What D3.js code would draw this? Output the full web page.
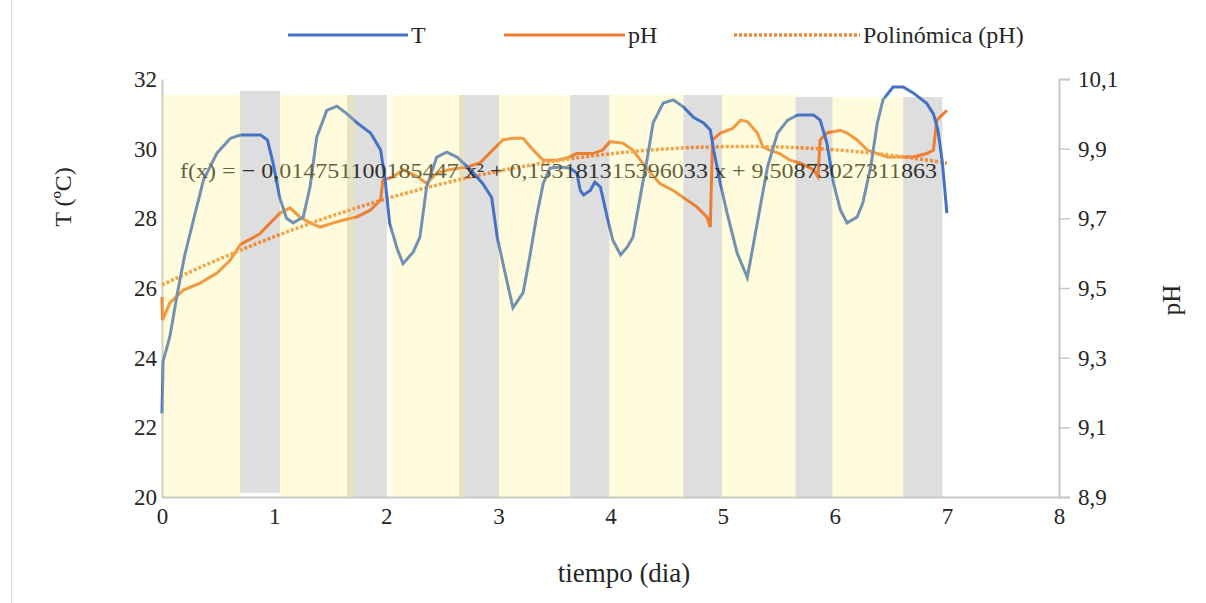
<!DOCTYPE html>
<html>
<head>
<meta charset="utf-8">
<script src="https://cdn.jsdelivr.net/npm/d3@7/dist/d3.min.js"></script>
<style>
  body { margin: 0; background: #fff; }
</style>
</head>
<body>
<svg width="1206" height="603"></svg>
<script>
// temperature series (day, °C)
const tDays = [0.00, 0.01, 0.07, 0.14, 0.20, 0.28, 0.37, 0.49, 0.61, 0.70, 0.88, 0.94, 0.99, 1.05, 1.11, 1.17, 1.26, 1.32, 1.38, 1.47, 1.56, 1.65, 1.74, 1.86, 1.95, 1.99, 2.03, 2.10, 2.15, 2.24, 2.30, 2.36, 2.45, 2.54, 2.63, 2.75, 2.86, 2.94, 2.99, 3.06, 3.13, 3.22, 3.28, 3.34, 3.40, 3.46, 3.55, 3.64, 3.70, 3.73, 3.76, 3.82, 3.86, 3.91, 3.97, 4.02, 4.09, 4.15, 4.20, 4.26, 4.33, 4.38, 4.47, 4.56, 4.65, 4.74, 4.83, 4.89, 4.92, 4.98, 5.04, 5.13, 5.22, 5.27, 5.33, 5.40, 5.49, 5.58, 5.67, 5.81, 5.87, 5.93, 5.99, 6.05, 6.11, 6.20, 6.25, 6.32, 6.38, 6.43, 6.52, 6.61, 6.70, 6.82, 6.88, 6.92, 6.96, 7.00];
const tValues = [22.4, 23.9, 24.6, 25.9, 26.9, 27.95, 29.1, 29.87, 30.3, 30.39, 30.39, 30.25, 29.6, 28.6, 28.0, 27.87, 28.04, 28.9, 30.33, 31.1, 31.22, 31.0, 30.74, 30.45, 29.96, 29.1, 27.87, 27.1, 26.7, 27.03, 27.46, 28.9, 29.76, 29.9, 29.76, 29.4, 29.0, 28.6, 27.46, 26.43, 25.43, 25.86, 26.9, 28.04, 29.0, 29.44, 29.47, 29.44, 29.3, 28.8, 28.67, 28.8, 29.04, 28.9, 28.04, 27.38, 26.95, 27.18, 27.46, 28.53, 29.76, 30.74, 31.31, 31.4, 31.2, 30.9, 30.74, 30.54, 29.96, 29.0, 28.15, 27.0, 26.3, 27.18, 28.24, 29.47, 30.45, 30.82, 30.97, 30.97, 30.82, 30.16, 29.0, 28.24, 27.87, 28.04, 28.44, 29.47, 30.74, 31.4, 31.77, 31.77, 31.6, 31.3, 31.0, 30.54, 29.6, 28.15];

// pH series (day, pH)
const phDays = [0.00, 0.005, 0.07, 0.19, 0.34, 0.49, 0.61, 0.70, 0.87, 1.05, 1.14, 1.23, 1.32, 1.41, 1.53, 1.62, 1.74, 1.86, 1.95, 1.97, 2.06, 2.15, 2.28, 2.36, 2.45, 2.57, 2.72, 2.84, 2.95, 3.04, 3.13, 3.22, 3.31, 3.40, 3.52, 3.61, 3.70, 3.84, 3.93, 3.996, 4.11, 4.20, 4.33, 4.44, 4.56, 4.68, 4.77, 4.86, 4.89, 4.91, 4.98, 5.09, 5.16, 5.22, 5.31, 5.36, 5.42, 5.51, 5.60, 5.69, 5.81, 5.85, 5.87, 5.93, 6.05, 6.11, 6.20, 6.29, 6.38, 6.47, 6.58, 6.70, 6.82, 6.88, 6.91, 7.00];
const phValues = [9.474, 9.408, 9.457, 9.494, 9.514, 9.543, 9.58, 9.625, 9.655, 9.715, 9.73, 9.704, 9.687, 9.675, 9.687, 9.695, 9.704, 9.724, 9.753, 9.81, 9.819, 9.84, 9.819, 9.8, 9.83, 9.84, 9.847, 9.86, 9.896, 9.925, 9.93, 9.93, 9.896, 9.867, 9.867, 9.873, 9.886, 9.886, 9.896, 9.92, 9.916, 9.896, 9.84, 9.8, 9.78, 9.753, 9.733, 9.704, 9.675, 9.925, 9.945, 9.958, 9.982, 9.978, 9.945, 9.905, 9.896, 9.886, 9.867, 9.859, 9.84, 9.82, 9.925, 9.945, 9.953, 9.945, 9.925, 9.896, 9.886, 9.876, 9.876, 9.876, 9.886, 9.896, 9.982, 10.01];

// polynomial trendline coefficients for pH (a x² + b x + c)
const trendCoef = [-0.014751100185447, 0.153181315396033, 9.50873027311863];
const trendLabel = "f(x) = \u2212 0,014751100185447 x\u00B2 + 0,153181315396033 x + 9,50873027311863";

// light (yellow) and dark (gray) periods, in days, top in °C
const lightStart = [0.00, 1.05, 2.04, 3.00, 3.99, 4.99, 5.98];
const lightEnd = [0.705, 1.72, 2.70, 3.64, 4.65, 5.65, 6.61];
const lightTop = [31.54, 31.54, 31.54, 31.54, 31.54, 31.54, 31.48];
const darkStart = [0.695, 1.65, 2.65, 3.64, 4.65, 5.65, 6.61];
const darkEnd = [1.053, 2.005, 3.005, 3.99, 4.995, 5.98, 6.96];
const darkTop = [31.66, 31.54, 31.54, 31.54, 31.54, 31.48, 31.48];
const darkBottom = [20.12, 20, 20, 20, 20, 20, 20];

const xTicks = [0, 1, 2, 3, 4, 5, 6, 7, 8];
const tTicks = [20, 22, 24, 26, 28, 30, 32];
const phTicks = [8.9, 9.1, 9.3, 9.5, 9.7, 9.9, 10.1];

const serif = "Liberation Serif";
const svg = d3.select("svg").attr("font-family", serif);
const plotLeft = 162, plotRight = 1059, plotTop = 79, plotBottom = 497;

const x = d3.scaleLinear().domain([0, 8]).range([plotLeft, plotRight]);
const yT = d3.scaleLinear().domain([20, 32]).range([plotBottom, plotTop]);
const yPH = d3.scaleLinear().domain([8.9, 10.1]).range([plotBottom, plotTop]);
const comma = d3.formatLocale({ decimal: ",", thousands: ".", grouping: [3], currency: ["", ""] }).format(".1f");

// outer frame edge
svg.append("line").attr("x1", 11.5).attr("x2", 11.5).attr("y1", 0).attr("y2", 603)
  .attr("stroke", "#d9d9d9");

// dark periods, behind the lines
darkStart.forEach((d, i) => {
  svg.append("rect")
    .attr("x", x(d)).attr("width", x(darkEnd[i]) - x(d))
    .attr("y", yT(darkTop[i])).attr("height", yT(darkBottom[i]) - yT(darkTop[i]))
    .attr("fill", "#dedede");
});

// axes
const axisColor = "#c8c8c8";
const gx = svg.append("g").attr("transform", `translate(0,${plotBottom})`)
  .call(d3.axisBottom(x).tickValues(xTicks).tickSize(0).tickPadding(11));
const gl = svg.append("g").attr("transform", `translate(${plotLeft},0)`)
  .call(d3.axisLeft(yT).tickValues(tTicks).tickSize(0).tickPadding(5));
const gr = svg.append("g").attr("transform", `translate(${plotRight},0)`)
  .call(d3.axisRight(yPH).tickValues(phTicks).tickFormat(comma).tickSize(11).tickPadding(8));
[gx, gl, gr].forEach(g => {
  g.attr("font-family", serif).attr("font-size", 23);
  g.select(".domain").attr("stroke", axisColor).attr("stroke-width", 2);
  g.selectAll(".tick line").attr("stroke", axisColor).attr("stroke-width", 1.5);
  g.selectAll("text").attr("fill", "#262626");
});

// series
const tLine = d3.line().x((d, i) => x(tDays[i])).y(d => yT(d));
const phLine = d3.line().x((d, i) => x(phDays[i])).y(d => yPH(d));

svg.append("path").datum(phValues).attr("d", phLine)
  .attr("fill", "none").attr("stroke", "#ED7D31").attr("stroke-width", 3);

const trend = phDays.map(d => trendCoef[0] * d * d + trendCoef[1] * d + trendCoef[2]);
svg.append("path").datum(trend).attr("d", phLine)
  .attr("fill", "none").attr("stroke", "#F08a3a").attr("stroke-width", 3.5)
  .attr("stroke-dasharray", "3,2");

svg.append("path").datum(tValues).attr("d", tLine)
  .attr("fill", "none").attr("stroke", "#4472C4").attr("stroke-width", 3);

// trendline equation
svg.append("text").attr("x", 180).attr("y", 178)
  .attr("font-size", 22).attr("textLength", 757).attr("lengthAdjust", "spacingAndGlyphs")
  .attr("fill", "#303030").text(trendLabel);

// light periods, translucent over everything
lightStart.forEach((d, i) => {
  svg.append("rect")
    .attr("x", x(d)).attr("width", x(lightEnd[i]) - x(d))
    .attr("y", yT(lightTop[i])).attr("height", yT(20) - yT(lightTop[i]))
    .attr("fill", "rgb(255,245,121)").attr("fill-opacity", 0.25);
});

// axis titles
svg.append("text").attr("transform", "translate(71,197) rotate(-90)")
  .attr("text-anchor", "middle").attr("font-size", 24).attr("fill", "#262626").text("T (ºC)");
svg.append("text").attr("transform", "translate(1180,300) rotate(-90)")
  .attr("text-anchor", "middle").attr("font-size", 25).attr("fill", "#262626").text("pH");
svg.append("text").attr("x", 624).attr("y", 582)
  .attr("text-anchor", "middle").attr("font-size", 27).attr("fill", "#262626").text("tiempo (dia)");

// legend
const legend = [
  { label: "T", color: "#4472C4", dash: null, x1: 288, x2: 408 },
  { label: "pH", color: "#ED7D31", dash: null, x1: 504, x2: 625 },
  { label: "Polinómica (pH)", color: "#F08a3a", dash: "3,2", x1: 734, x2: 860 }
];
legend.forEach(l => {
  svg.append("line").attr("x1", l.x1).attr("x2", l.x2).attr("y1", 35).attr("y2", 35)
    .attr("stroke", l.color).attr("stroke-width", l.dash ? 3.5 : 3)
    .attr("stroke-dasharray", l.dash);
  svg.append("text").attr("x", l.x2 + 3).attr("y", 43).attr("font-size", 24)
    .attr("fill", "#262626").text(l.label);
});
</script>
</body>
</html>
